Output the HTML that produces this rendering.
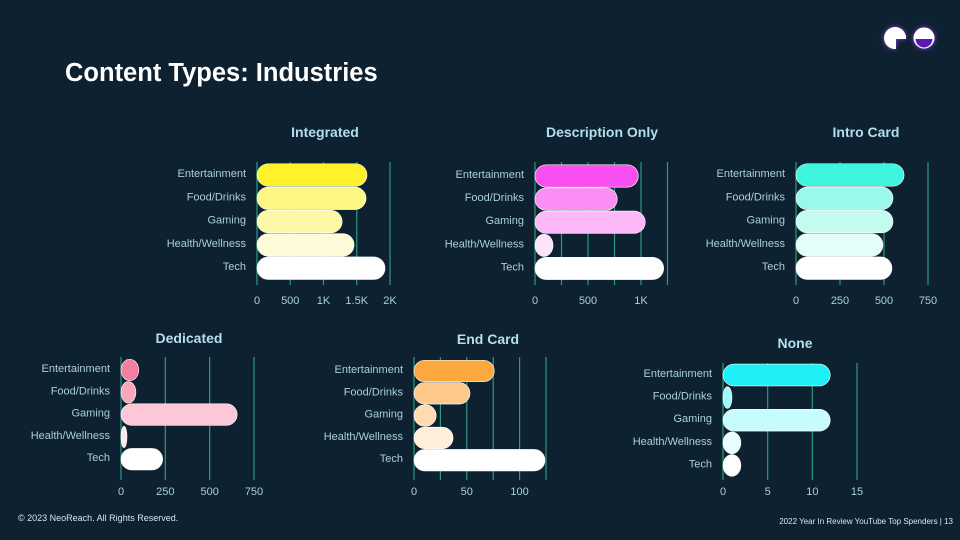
<!DOCTYPE html>
<html><head><meta charset="utf-8">
<style>
html,body{margin:0;padding:0;background:#0e2131;}
body{width:960px;height:540px;overflow:hidden;position:relative;font-family:"Liberation Sans",sans-serif;}
svg{position:absolute;left:0;top:0;}
</style></head>
<body>
<svg id="s" width="960" height="540" viewBox="0 0 960 540">
  <defs>
    <filter id="glow" x="-50%" y="-50%" width="200%" height="200%">
      <feDropShadow dx="0" dy="0" stdDeviation="2.5" flood-color="#8a3cf0" flood-opacity="1"/>
    </filter>
  </defs>
  <rect x="0" y="0" width="960" height="540" fill="#0e2131"/>
  <text x="65" y="81" fill="#ffffff" font-size="25.5" font-weight="bold">Content Types: Industries</text>
  <g filter="url(#glow)">
    <path d="M906,39 A11,11 0 1 0 896,49 L896,39 Z" fill="#ffffff"/>
    <circle cx="924" cy="38" r="10.5" fill="#ffffff"/>
    <path d="M915.5,39 A8.5,8.5 0 0 0 932.5,39 Z" fill="#5a1fb0"/>
  </g>
  <text x="18" y="521" fill="#d8e6ee" font-size="9">© 2023 NeoReach. All Rights Reserved.</text>
  <text x="953" y="524" fill="#d8e6ee" font-size="8" text-anchor="end">2022 Year In Review YouTube Top Spenders |  13</text>
</svg>
<script>
const categories = ["Entertainment","Food/Drinks","Gaming","Health/Wellness","Tech"];
const integratedValues = [1654, 1640, 1280, 1460, 1925];
const descriptionValues = [975, 776, 1040, 170, 1214];
const introValues = [614, 551, 551, 494, 545];
const dedicatedValues = [100, 84, 655, 28, 235];
const endCardValues = [76, 53, 21, 37, 124];
const noneValues = [12, 1, 12, 2, 2];
const integratedTicks = [0, 500, 1000, 1500, 2000];
const integratedTickLabels = ["0","500","1K","1.5K","2K"];
const descriptionTicks = [0, 500, 1000];
const descriptionTickLabels = ["0","500","1K"];
const introTicks = [0, 250, 500, 750];
const introTickLabels = ["0","250","500","750"];
const dedicatedTicks = [0, 250, 500, 750];
const dedicatedTickLabels = ["0","250","500","750"];
const endCardTicks = [0, 50, 100];
const endCardTickLabels = ["0","50","100"];
const noneTicks = [0, 5, 10, 15];
const noneTickLabels = ["0","5","10","15"];
const integratedGrid = [0, 500, 1000, 1500, 2000];
const descriptionGrid = [0, 250, 500, 750, 1000, 1250];
const introGrid = [0, 250, 500, 750];
const dedicatedGrid = [0, 250, 500, 750];
const endCardGrid = [0, 25, 50, 75, 100, 125];
const noneGrid = [0, 5, 10, 15];

const charts = [
  {name:"integrated", title:"Integrated", values:integratedValues, ticks:integratedTicks, tickLabels:integratedTickLabels, grid:integratedGrid,
   x0:257, xEnd:390, max:2000, titleX:325, titleY:137, rowY:175, pitch:23.3, gridTop:162, gridBot:285, tickY:304,
   colors:["#fff22a","#fdf680","#fdf8a6","#fefbd8","#ffffff"]},
  {name:"description-only", title:"Description Only", values:descriptionValues, ticks:descriptionTicks, tickLabels:descriptionTickLabels, grid:descriptionGrid,
   x0:535, xEnd:641, max:1000, titleX:602, titleY:137, rowY:176, pitch:23.1, gridTop:162, gridBot:285, tickY:304,
   colors:["#f94ff0","#fb8ef5","#fdb8f8","#fde2fb","#ffffff"]},
  {name:"intro-card", title:"Intro Card", values:introValues, ticks:introTicks, tickLabels:introTickLabels, grid:introGrid,
   x0:796, xEnd:928, max:750, titleX:866, titleY:137, rowY:175, pitch:23.3, gridTop:162, gridBot:285, tickY:304,
   colors:["#3ef5dd","#9af9e9","#c4fbef","#e5fdf8","#ffffff"]},
  {name:"dedicated", title:"Dedicated", values:dedicatedValues, ticks:dedicatedTicks, tickLabels:dedicatedTickLabels, grid:dedicatedGrid,
   x0:121, xEnd:254, max:750, titleX:189, titleY:343, rowY:370, pitch:22.3, gridTop:357, gridBot:480, tickY:495,
   colors:["#f47ea0","#f8a8bd","#fcc8d8","#fde6ee","#ffffff"]},
  {name:"end-card", title:"End Card", values:endCardValues, ticks:endCardTicks, tickLabels:endCardTickLabels, grid:endCardGrid,
   x0:414, xEnd:546, max:125, titleX:488, titleY:344, rowY:371, pitch:22.3, gridTop:357, gridBot:480, tickY:495,
   colors:["#fba93e","#fdc98a","#fddcb0","#feeeda","#ffffff"]},
  {name:"none", title:"None", values:noneValues, ticks:noneTicks, tickLabels:noneTickLabels, grid:noneGrid,
   x0:723, xEnd:857, max:15, titleX:795, titleY:348, rowY:375, pitch:22.6, gridTop:363, gridBot:480, tickY:495,
   colors:["#1ef0f5","#a0f8fa","#c8fbfc","#e8fdfd","#ffffff"]}
];

const NS = "http://www.w3.org/2000/svg";
const svg = document.getElementById("s");
function mk(tag, attrs, parent){
  const e = document.createElementNS(NS, tag);
  for (const k in attrs) e.setAttribute(k, attrs[k]);
  parent.appendChild(e);
  return e;
}
charts.forEach(c => {
  const xs = v => c.x0 + (v / c.max) * (c.xEnd - c.x0);
  const g = mk("g", {}, svg);
  
  
  const t = mk("text", {x:c.titleX, y:c.titleY, fill:"#b4dfec", "font-size":"14", "font-weight":"bold", "text-anchor":"middle"}, g);
  t.textContent = c.title;
  
  
  c.grid.forEach(v => {
    const l = mk("line", {x1:xs(v), x2:xs(v), y1:c.gridTop, y2:c.gridBot, stroke:"#2b9a80", "stroke-width":"1.2"}, g);
    
    
  });
  const bh = c.pitch - 0.8;
  c.values.forEach((v, i) => {
    const cy = c.rowY + i * c.pitch;
    const w = Math.max(xs(v) - c.x0, 6);
    const b = mk("rect", {x:c.x0, y:cy - bh/2, width:w, height:bh, rx:Math.min(bh/2, w/2), ry:bh/2, fill:c.colors[i], stroke:"#ffffff", "stroke-width":"0.6"}, g);
    
    
    const lab = mk("text", {x:c.x0 - 11, y:cy + 2, fill:"#a9d0dc", "font-size":"11", "text-anchor":"end"}, g);
    lab.textContent = categories[i];
    
    
  });
  c.ticks.forEach((v, i) => {
    const tl = mk("text", {x:xs(v), y:c.tickY, fill:"#a9d0dc", "font-size":"11", "text-anchor":"middle"}, g);
    tl.textContent = c.tickLabels[i];
    
    
  });
});
</script>
</body></html>
